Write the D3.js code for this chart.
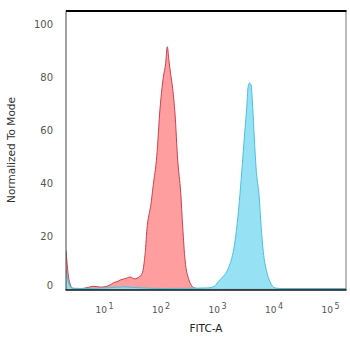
<!DOCTYPE html>
<html>
<head>
<meta charset="utf-8">
<script src="https://cdn.jsdelivr.net/npm/d3@7"></script>
<style>
  html, body { margin: 0; padding: 0; background: #fff; }
  svg { display: block; }
</style>
</head>
<body>
<svg id="chart" width="350" height="341"></svg>
<script>
// log10(FITC-A) positions and Normalized To Mode values
const redLog = [0.327,0.345,0.363,0.398,0.434,0.50,0.575,0.717,0.80,0.88,0.95,1.02,1.106,1.17,1.23,1.30,1.372,1.46,1.549,1.62,1.66,1.69,1.726,1.766,1.80,1.827,1.87,1.933,1.991,2.027,2.05,2.09,2.120,2.15,2.18,2.216,2.257,2.304,2.358,2.393,2.434,2.504,2.56,2.611,2.70,3.0,4.0,5.283];
const redVal = [14.5,10,6,2,0.4,0.1,0.1,0.6,1.0,0.9,0.7,0.9,1.5,2.4,2.8,3.5,3.9,4.5,3.8,4.6,5.3,7,13,24,28.5,31.5,39,50,68,76,80,85,91.4,86,81,75.5,66,48.7,36.2,23.4,10.9,3.4,1,0.3,0.1,0.1,0.1,0.1];
const blueLog = [0.327,0.345,0.363,0.398,0.434,0.6,1.1,1.35,1.6,2.0,2.818,2.95,3.023,3.10,3.172,3.23,3.288,3.359,3.407,3.448,3.483,3.526,3.549,3.572,3.602,3.632,3.660,3.690,3.749,3.773,3.819,3.880,3.938,4.027,4.2,5.283];
const blueVal = [7.6,5,3,1,0.3,0.2,0.5,0.8,0.5,0.2,0.4,1.0,2.8,4.5,6.5,9.5,14.1,25,36,47,57,68.5,76,77.7,77,68.5,57,46,34,26,14.1,6.5,2.75,0.4,0.1,0.1];
const xTickLog = [1,2,3,4,5];
const yTicks = [0,20,40,60,80,100];

const svg = d3.select("#chart");
const L = 66, R = 346, T = 11, B = 290;

const x = d3.scaleLinear().domain([0.327, 5.283]).range([L, R]);
const y = d3.scaleLinear().domain([0, 104.9]).range([289, T]);

svg.append("defs").append("clipPath").attr("id", "pc")
  .append("rect").attr("x", L).attr("y", T).attr("width", R - L).attr("height", B - T);

const area = d3.area().x(d => x(d[0])).y0(B).y1(d => y(d[1])).curve(d3.curveMonotoneX);
const line = d3.line().x(d => x(d[0])).y(d => y(d[1])).curve(d3.curveMonotoneX);

const red = redLog.map((d, i) => [d, redVal[i]]);
const blue = blueLog.map((d, i) => [d, blueVal[i]]);

const g = svg.append("g").attr("clip-path", "url(#pc)");
g.append("path").datum(red).attr("d", area).attr("fill", "#ff9d9f");
g.append("path").datum(red).attr("d", line).attr("fill", "none").attr("stroke", "#c9434e").attr("stroke-width", 1);
g.append("path").datum(blue).attr("d", area).attr("fill", "#8ddff3").attr("fill-opacity", 0.92);
g.append("path").datum(blue).attr("d", line).attr("fill", "none").attr("stroke", "#4cbfdc").attr("stroke-width", 1);

// Y axis
const yAxis = svg.append("g").attr("transform", `translate(${L},0)`)
  .call(d3.axisLeft(y).tickValues(yTicks).tickSize(0).tickPadding(13));
yAxis.select(".domain").remove();
yAxis.selectAll("text").attr("font-family", "DejaVu Sans, sans-serif").attr("font-size", "10px").attr("fill", "#555");
yAxis.selectAll(".tick").filter(d => d === 0).select("text").attr("dy", "-0.05em");

// X axis
const xAxis = svg.append("g").attr("transform", `translate(0,${B})`)
  .call(d3.axisBottom(x).tickValues(xTickLog).tickSize(0).tickPadding(14).tickFormat(""));
xAxis.select(".domain").remove();
xAxis.selectAll(".tick text").each(function(d) {
  const t = d3.select(this);
  t.text(null).attr("font-family", "DejaVu Sans, sans-serif").attr("font-size", "9px").attr("fill", "#555")
    .attr("text-anchor", "middle").attr("dy", "1.0em");
  t.append("tspan").text("10");
  t.append("tspan").attr("dy", "-0.55em").attr("dx", "1.5").attr("font-size", "8px").text(String(d));
});

// Frame
svg.append("line").attr("x1", L).attr("x2", L).attr("y1", T).attr("y2", B).attr("stroke", "#444").attr("stroke-width", 1);
svg.append("line").attr("x1", R).attr("x2", R).attr("y1", T).attr("y2", B).attr("stroke", "#777").attr("stroke-width", 1);
svg.append("line").attr("x1", L).attr("x2", R + 0.5).attr("y1", T).attr("y2", T).attr("stroke", "#000").attr("stroke-width", 2);
svg.append("line").attr("x1", L - 0.5).attr("x2", R + 0.5).attr("y1", B).attr("y2", B).attr("stroke", "#111").attr("stroke-width", 1.5);

// Titles
svg.append("text").attr("x", (L + R) / 2).attr("y", 332).attr("text-anchor", "middle")
  .attr("font-family", "DejaVu Sans, sans-serif").attr("font-size", "10.5px").attr("fill", "#222").text("FITC-A");
svg.append("text").attr("transform", "translate(15,150) rotate(-90)").attr("text-anchor", "middle")
  .attr("font-family", "DejaVu Sans, sans-serif").attr("font-size", "10.5px").attr("fill", "#333").text("Normalized To Mode");
</script>
</body>
</html>
